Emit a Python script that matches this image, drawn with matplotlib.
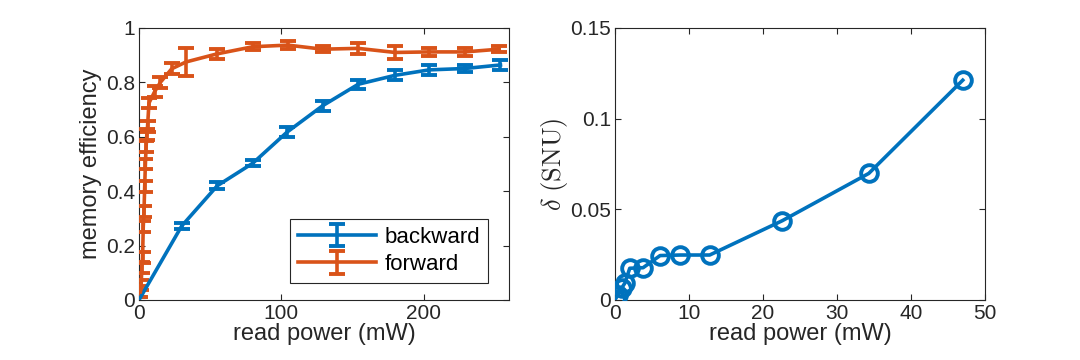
import matplotlib
matplotlib.use("Agg")
import matplotlib.pyplot as plt
import numpy as np

plt.rcParams['font.family'] = ['Liberation Sans', 'DejaVu Sans']
plt.rcParams['mathtext.fontset'] = 'cm'

# Left panel data
bw_power = [0, 30, 55, 80, 104, 129, 154, 180, 204, 229, 254]
bw_eff = [0.0, 0.272, 0.42, 0.503, 0.617, 0.714, 0.793, 0.826, 0.846, 0.851, 0.864]
bw_err = [0.01, 0.012, 0.012, 0.012, 0.018, 0.018, 0.016, 0.018, 0.018, 0.012, 0.02]

fw_power = [1, 1.5, 2, 2.5, 3, 3.5, 4, 4.5, 5, 5.5, 6, 7, 11, 15, 23, 33,
            55, 80, 104.6, 129, 154, 180, 204, 229, 253]
fw_eff = [0.03, 0.055, 0.12, 0.155, 0.27, 0.325, 0.417, 0.50, 0.564, 0.607, 0.637,
          0.724, 0.766, 0.80, 0.85, 0.875, 0.905, 0.931, 0.937, 0.922, 0.925,
          0.91, 0.912, 0.912, 0.922]
fw_err = [0.02, 0.02, 0.02, 0.02, 0.02, 0.02, 0.02, 0.02, 0.02, 0.02, 0.02,
          0.02, 0.02, 0.02, 0.02, 0.05, 0.018, 0.012, 0.015, 0.012, 0.02,
          0.025, 0.015, 0.015, 0.01]

# Right panel data
rp_power = [0.1, 0.45, 0.9, 1.35, 2.0, 3.8, 6.1, 8.8, 12.8, 22.6, 34.3, 47.0]
delta = [0.0008, 0.0028, 0.0065, 0.0094, 0.0175, 0.0178, 0.0245, 0.0248, 0.0248,
         0.0437, 0.0698, 0.1212]

blue = '#0072BD'
orange = '#D95319'
axc = '#262626'

fig = plt.figure(figsize=(10.8, 3.6), dpi=100)
ax1 = fig.add_axes([0.1287, 0.1667, 0.3426, 0.7556])
ax2 = fig.add_axes([0.5694, 0.1667, 0.3426, 0.7556])

ax1.errorbar(bw_power, bw_eff, yerr=bw_err, color=blue, lw=2.6, elinewidth=2.6,
             capsize=5.5, capthick=2.8, label='backward', zorder=3)
ax1.errorbar(fw_power, fw_eff, yerr=fw_err, color=orange, lw=2.6, elinewidth=2.6,
             capsize=5.5, capthick=2.8, label='forward', zorder=3)
ax1.set_xlim(0, 260)
ax1.set_ylim(0, 1)
ax1.set_xticks([0, 100, 200])
ax1.set_yticks([0, 0.2, 0.4, 0.6, 0.8, 1])
ax1.set_yticklabels(['0', '0.2', '0.4', '0.6', '0.8', '1'])
ax1.set_xlabel('read power (mW)', fontsize=17, labelpad=0)
ax1.set_ylabel('memory efficiency', fontsize=17, labelpad=3)
leg = ax1.legend(loc='lower right', fontsize=16, frameon=True, fancybox=False,
                 edgecolor=axc, framealpha=1, handlelength=3.5, borderpad=0.35,
                 labelspacing=0.3, handletextpad=0.4, borderaxespad=0,
                 bbox_to_anchor=(0.943, 0.0625))
leg.get_frame().set_linewidth(0.8)

ax2.plot(rp_power, delta, color=blue, lw=2.6, marker='o', markersize=12,
         markerfacecolor='none', markeredgewidth=2.8, zorder=3)
ax2.set_xlim(0, 50)
ax2.set_ylim(0, 0.15)
ax2.set_xticks([0, 10, 20, 30, 40, 50])
ax2.set_yticks([0, 0.05, 0.1, 0.15])
ax2.set_yticklabels(['0', '0.05', '0.1', '0.15'])
ax2.set_xlabel('read power (mW)', fontsize=17, labelpad=0)
ax2.set_ylabel(r'$\delta\ \mathrm{(SNU)}$', fontsize=19, labelpad=0)

for ax in (ax1, ax2):
    ax.tick_params(direction='in', length=4, width=0.8, colors=axc, labelsize=15,
                   top=True, right=True, pad=3)
    for s in ax.spines.values():
        s.set_color(axc)
        s.set_linewidth(0.8)
    ax.xaxis.label.set_color(axc)
    ax.yaxis.label.set_color(axc)

fig.savefig('out.png', dpi=100)
